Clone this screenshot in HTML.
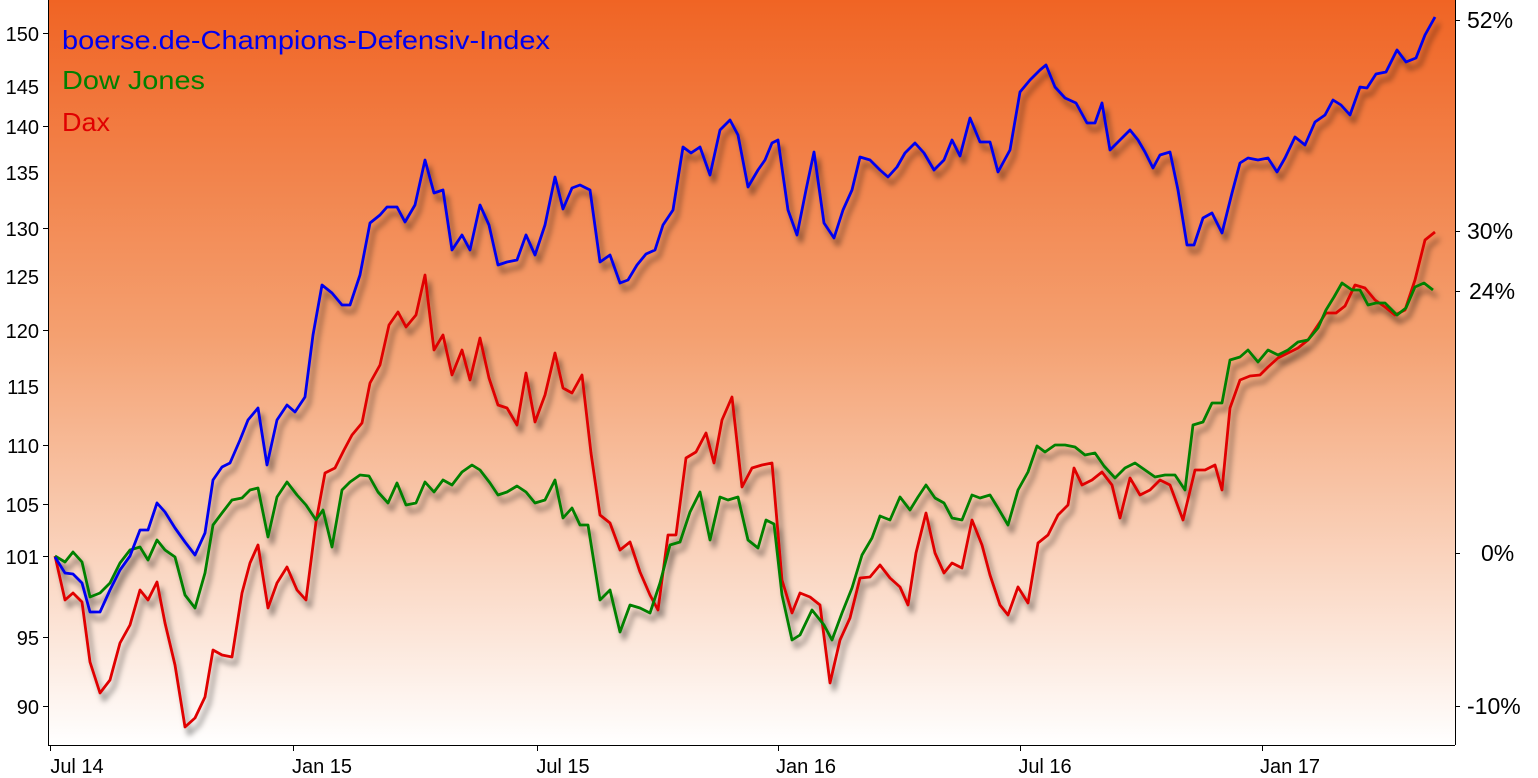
<!DOCTYPE html>
<html><head><meta charset="utf-8"><style>
body{margin:0;width:1538px;height:778px;overflow:hidden;background:#fff;font-family:"Liberation Sans",sans-serif}
</style></head><body>
<svg width="1538" height="778" xmlns="http://www.w3.org/2000/svg" style="display:block">
<defs>
<linearGradient id="bg" x1="0" y1="0" x2="0" y2="1">
<stop offset="0" stop-color="#f06424"/><stop offset="0.45" stop-color="#f4a070"/><stop offset="1" stop-color="#ffffff"/>
</linearGradient>
<filter id="sh" x="-5%" y="-5%" width="110%" height="115%">
<feDropShadow dx="4" dy="7" stdDeviation="3" flood-color="#000" flood-opacity="0.5"/>
</filter>
</defs>
<rect x="0" y="0" width="1538" height="778" fill="#fff"/>
<rect x="48" y="0" width="1407" height="745" fill="url(#bg)"/>
<g fill="none" stroke-width="2.8" stroke-linejoin="round" filter="url(#sh)">
<polyline stroke="#e00000" points="55,556 65,600 73,593 82,602 90,662 100,693 110,680 120,643 130,625 140,590 148,600 157,582 165,623 175,665 185,727 195,718 205,697 213,650 222,655 232,657 242,593 250,563 258,545 268,608 277,583 287,567 297,590 306,600 316,522 325,473 335,468 344,450 352,435 362,423 370,383 380,365 389,325 398,312 406,327 416,315 425,275 434,350 443,335 452,375 462,350 470,380 480,338 489,378 498,405 507,408 517,425 526,373 535,422 545,395 555,353 563,388 572,393 582,375 591,453 600,515 610,523 620,550 630,542 640,572 650,595 658,610 668,535 676,535 686,458 696,452 706,433 714,463 722,420 732,397 742,487 752,468 762,465 772,463 782,580 792,613 800,593 810,597 820,605 830,683 840,640 850,618 860,578 870,577 880,565 890,578 900,587 908,605 916,553 926,513 935,553 944,573 952,563 962,568 972,520 982,545 990,575 1000,605 1008,615 1018,587 1028,603 1038,543 1048,535 1058,515 1068,505 1074,468 1082,485 1092,480 1102,472 1112,485 1120,518 1130,478 1140,495 1150,490 1160,480 1170,485 1183,520 1195,470 1205,470 1215,465 1222,490 1230,408 1240,380 1250,376 1260,375 1268,367 1278,358 1288,353 1298,348 1308,340 1318,325 1326,313 1336,313 1345,306 1355,285 1365,288 1375,300 1385,307 1395,315 1405,310 1415,280 1425,240 1435,232"/>
<polyline stroke="#008000" points="55,556 65,562 73,552 82,562 90,597 100,593 110,583 120,563 130,550 140,547 148,560 157,540 165,550 175,557 185,595 195,608 205,573 213,525 222,513 232,500 242,498 250,490 258,488 268,537 277,497 287,482 297,495 306,505 316,520 323,510 332,547 342,490 350,482 360,475 369,476 378,492 388,503 397,483 406,505 416,503 425,482 434,492 443,480 452,485 462,472 472,465 480,470 490,483 498,495 507,492 517,486 526,492 535,503 545,500 555,480 563,518 572,508 580,525 588,525 600,600 610,590 620,632 630,605 640,608 650,613 660,583 670,545 680,542 690,512 700,492 710,540 720,497 728,500 738,497 748,540 758,548 766,520 774,524 782,595 792,640 800,635 812,610 824,625 832,640 842,613 852,588 862,555 872,538 880,516 890,520 900,497 910,510 918,497 926,485 935,498 944,503 952,518 962,520 972,495 980,498 990,495 998,508 1008,525 1018,490 1028,472 1037,446 1045,452 1055,445 1065,445 1075,447 1085,455 1095,453 1104,466 1115,478 1125,468 1135,463 1145,470 1155,477 1165,475 1175,475 1185,490 1193,425 1203,422 1212,403 1222,403 1230,360 1240,357 1248,350 1258,362 1268,350 1278,355 1288,350 1298,342 1308,340 1318,328 1326,310 1334,297 1342,283 1352,290 1360,290 1368,305 1376,303 1385,303 1397,315 1406,308 1415,287 1424,283 1433,290"/>
<polyline stroke="#0000f0" points="55,557 65,573 73,574 82,583 90,612 100,612 110,590 120,570 130,556 140,530 148,530 157,503 165,512 175,528 185,542 195,555 205,533 213,480 222,467 230,463 240,440 248,420 258,408 267,465 277,420 287,405 295,412 305,397 313,335 322,285 332,293 342,305 350,305 360,275 370,223 380,215 387,207 397,207 405,222 415,205 425,160 434,193 443,190 452,250 462,235 470,250 480,205 489,225 498,265 507,262 517,260 526,235 535,255 545,225 555,177 563,209 572,188 580,185 590,190 600,262 610,255 620,283 628,280 637,265 646,254 655,250 663,225 673,210 683,147 691,153 700,147 710,175 720,130 730,120 738,135 748,187 758,170 765,160 772,143 778,140 788,210 797,235 806,190 814,152 824,223 834,238 843,210 852,190 860,157 870,160 880,170 888,177 897,167 905,153 915,143 924,153 934,170 944,160 952,140 960,156 970,118 980,142 990,142 998,172 1010,150 1020,92 1030,80 1040,70 1046,65 1055,87 1065,98 1076,103 1087,123 1095,123 1102,103 1110,150 1120,140 1130,130 1138,140 1145,152 1153,168 1160,155 1170,152 1178,190 1187,245 1194,245 1203,218 1212,213 1222,233 1232,193 1240,163 1248,158 1258,160 1268,158 1277,172 1285,158 1295,137 1305,145 1315,122 1325,115 1333,100 1341,105 1350,115 1360,87 1367,88 1376,74 1386,72 1397,50 1406,62 1416,58 1425,35 1435,17"/>
</g>
<g stroke="#000" stroke-width="1">
<line x1="48.5" y1="0" x2="48.5" y2="745"/>
<line x1="48" y1="745.5" x2="1455" y2="745.5"/>
<line x1="1455.5" y1="0" x2="1455.5" y2="745"/>
<line x1="43" y1="33.5" x2="48" y2="33.5"/><line x1="43" y1="126.5" x2="48" y2="126.5"/><line x1="43" y1="228.5" x2="48" y2="228.5"/><line x1="43" y1="330.5" x2="48" y2="330.5"/><line x1="43" y1="445.5" x2="48" y2="445.5"/><line x1="43" y1="504.5" x2="48" y2="504.5"/><line x1="43" y1="556.5" x2="48" y2="556.5"/><line x1="43" y1="637.5" x2="48" y2="637.5"/><line x1="43" y1="706.5" x2="48" y2="706.5"/>
<line x1="1455" y1="20.5" x2="1460" y2="20.5"/><line x1="1455" y1="231.5" x2="1460" y2="231.5"/><line x1="1455" y1="291.5" x2="1460" y2="291.5"/><line x1="1455" y1="553.5" x2="1460" y2="553.5"/><line x1="1455" y1="706.5" x2="1460" y2="706.5"/>
<line x1="50.5" y1="745" x2="50.5" y2="751"/><line x1="293.5" y1="745" x2="293.5" y2="751"/><line x1="537.5" y1="745" x2="537.5" y2="751"/><line x1="778.5" y1="745" x2="778.5" y2="751"/><line x1="1020.5" y1="745" x2="1020.5" y2="751"/><line x1="1262.5" y1="745" x2="1262.5" y2="751"/>
</g>
<g font-size="20" fill="#000" text-anchor="end">
<text x="39" y="41">150</text><text x="39" y="94">145</text><text x="39" y="134">140</text><text x="39" y="180">135</text><text x="39" y="236">130</text><text x="39" y="284">125</text><text x="39" y="338">120</text><text x="39" y="394">115</text><text x="39" y="453">110</text><text x="39" y="512">105</text><text x="39" y="564">101</text><text x="39" y="645">95</text><text x="39" y="714">90</text>
</g>
<g font-size="23" fill="#000">
<text x="1467" y="28">52%</text><text x="1467" y="239">30%</text><text x="1469" y="299">24%</text><text x="1481" y="561">0%</text><text x="1467" y="714">-10%</text>
</g>
<g font-size="20" fill="#000" text-anchor="middle">
<text x="77" y="773">Jul 14</text><text x="322" y="773">Jan 15</text><text x="563" y="773">Jul 15</text><text x="806" y="773">Jan 16</text><text x="1045" y="773">Jul 16</text><text x="1290" y="773">Jan 17</text>
</g>
<g font-size="26">
<text x="62" y="49" fill="#0000f0" textLength="488" lengthAdjust="spacingAndGlyphs">boerse.de-Champions-Defensiv-Index</text>
<text x="62" y="89" fill="#008000" textLength="143" lengthAdjust="spacingAndGlyphs">Dow Jones</text>
<text x="62" y="131" fill="#e00000" textLength="48" lengthAdjust="spacingAndGlyphs">Dax</text>
</g>
</svg>
</body></html>
